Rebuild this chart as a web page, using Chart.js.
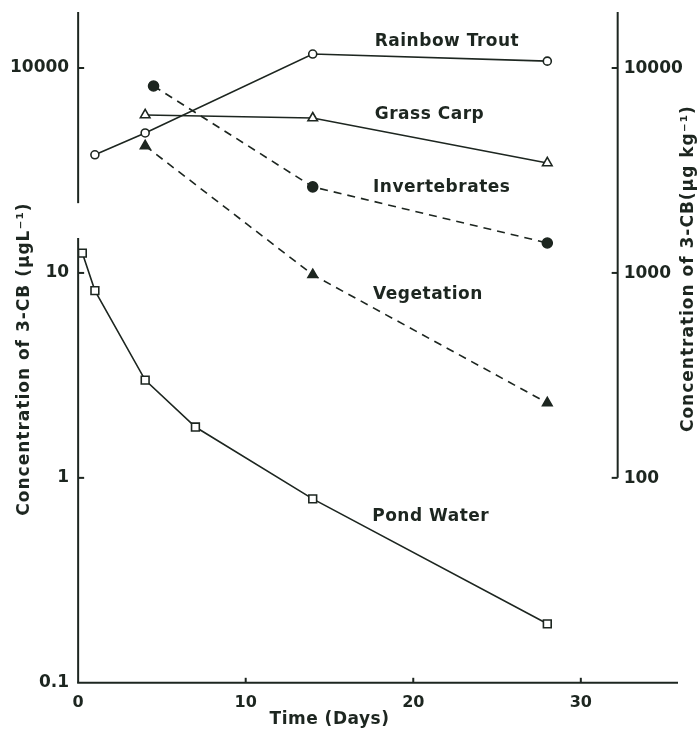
<!DOCTYPE html>
<html>
<head>
<meta charset="utf-8">
<title>3-CB concentration over time</title>
<script src="https://cdn.jsdelivr.net/npm/chart.js@4.4.1/dist/chart.umd.min.js"></script>
<style>
  html, body { margin: 0; padding: 0; background: #fff; }
  #wrap { width: 698px; height: 737px; }
</style>
</head>
<body>
<div id="wrap"><canvas id="chart"></canvas></div>
<script>
// --- DATA ---
const pondDays = [0.25, 1, 4, 7, 14, 28];
const pondWater = [12.5, 8.2, 3.0, 1.77, 0.79, 0.194];      // µg L-1, left axis

const troutDays = [1, 4, 14, 28];
const rainbowTrout = [3770, 4820, 11700, 10800];             // µg kg-1, right axis

const carpDays = [4, 14, 28];
const grassCarp = [5900, 5700, 3440];

const invertDays = [4.5, 14, 28];
const invertebrates = [8170, 2630, 1400];

const vegDays = [4, 14, 28];
const vegetation = [4170, 980, 232];

const xTicks = [0, 10, 20, 30];
const leftTicks = [0.1, 1, 10, 100];
const leftTickLabels = ['0.1', '1', '10', '10000'];   // upper part of the broken left axis is in µg kg-1
const rightTicks = [100, 1000, 10000];

// series names, placed in data units
const seriesLabels = [
    { text: 'Rainbow Trout', day: 17.7, value: 13390, axis: 'yR' },
    { text: 'Grass Carp', day: 17.7, value: 5900, axis: 'yR' },
    { text: 'Invertebrates', day: 17.6, value: 2600, axis: 'yR' },
    { text: 'Vegetation', day: 17.6, value: 783, axis: 'yR' },
    { text: 'Pond Water', day: 17.55, value: 0.645, axis: 'yL' }
];

// --- LOOK ---
const INK = '#1d2620';
const FONT = '"DejaVu Sans", sans-serif';
const rightAxisDay = 32.2;     // the right axis sits inside the plot
const leftBreak = [14.8, 21.9]; // gap in the left axis (µg L-1)

const toPoints = (xs, ys) => xs.map((d, i) => ({ x: d, y: ys[i] }));

function series(label, xs, ys, axis, style, radius, filled, dash) {
    return {
        label: label,
        data: toPoints(xs, ys),
        yAxisID: axis,
        borderColor: INK,
        borderWidth: 1.6,
        borderDash: dash || [],
        pointStyle: style,
        pointRadius: radius,
        pointBorderWidth: 1.6,
        pointBorderColor: INK,
        pointBackgroundColor: filled ? INK : '#fff',
        tension: 0
    };
}

function line(ctx, x1, y1, x2, y2) {
    ctx.beginPath();
    ctx.moveTo(x1, y1);
    ctx.lineTo(x2, y2);
    ctx.stroke();
}

// axes are drawn by hand: broken left axis, inward ticks, right axis inside the plot
const axisDecor = {
    id: 'axisDecor',
    afterDraw(chart) {
        const { ctx, chartArea } = chart;
        const x = chart.scales.x, yL = chart.scales.yL, yR = chart.scales.yR;
        const left = x.getPixelForValue(0);
        ctx.save();
        ctx.strokeStyle = INK;
        ctx.fillStyle = INK;
        ctx.lineWidth = 2;

        // left axis in two pieces
        line(ctx, left, chartArea.top, left, yL.getPixelForValue(leftBreak[1]));
        line(ctx, left, yL.getPixelForValue(leftBreak[0]), left, chartArea.bottom);
        leftTicks.slice(1).forEach(v => {
            const py = yL.getPixelForValue(v);
            line(ctx, left, py, left + 6, py);
        });

        // x axis
        line(ctx, left - 1, chartArea.bottom, chartArea.right, chartArea.bottom);
        xTicks.slice(1).forEach(v => {
            const px = x.getPixelForValue(v);
            line(ctx, px, chartArea.bottom, px, chartArea.bottom - 5);
        });

        // right axis
        const rx = x.getPixelForValue(rightAxisDay);
        line(ctx, rx, chartArea.top, rx, yR.getPixelForValue(rightTicks[0]));
        ctx.font = 'bold 17px ' + FONT;
        ctx.textAlign = 'left';
        ctx.textBaseline = 'middle';
        rightTicks.forEach(v => {
            const py = yR.getPixelForValue(v);
            line(ctx, rx - 6, py, rx, py);
            ctx.fillText(String(v), rx + 6, py + 1);
        });

        // axis titles
        ctx.font = 'bold 17px ' + FONT;
        ctx.textAlign = 'center';
        ctx.letterSpacing = '0.5px';
        ctx.fillText('Time (Days)', x.getPixelForValue(15), 720);

        ctx.letterSpacing = '1px';
        ctx.save();
        ctx.translate(25, yL.getPixelForValue(3.8));
        ctx.rotate(-Math.PI / 2);
        ctx.fillText('Concentration of 3-CB (\u00b5gL\u207b\u00b9)', 0, 0);
        ctx.restore();

        ctx.save();
        ctx.translate(689, yR.getPixelForValue(1050));
        ctx.rotate(-Math.PI / 2);
        ctx.fillText('Concentration of 3-CB(\u00b5g kg\u207b\u00b9)', 0, 0);
        ctx.restore();

        // series names
        ctx.letterSpacing = '0.5px';
        ctx.textAlign = 'left';
        seriesLabels.forEach(l => {
            const sc = chart.scales[l.axis];
            ctx.fillText(l.text, x.getPixelForValue(l.day), sc.getPixelForValue(l.value));
        });
        ctx.restore();
    }
};

new Chart(document.getElementById('chart'), {
    type: 'line',
    data: {
        datasets: [
            series('Pond Water', pondDays, pondWater, 'yL', 'rect', 5.5, false),
            series('Rainbow Trout', troutDays, rainbowTrout, 'yR', 'circle', 4, false),
            series('Grass Carp', carpDays, grassCarp, 'yR', 'triangle', 5.5, false),
            series('Invertebrates', invertDays, invertebrates, 'yR', 'circle', 5, true, [8, 6]),
            series('Vegetation', vegDays, vegetation, 'yR', 'triangle', 5.5, true, [8, 6])
        ]
    },
    options: {
        responsive: true,
        maintainAspectRatio: false,
        animation: false,
        layout: { padding: { left: 1, right: 20, top: 12, bottom: 15 } },
        plugins: {
            legend: { display: false },
            tooltip: { enabled: false }
        },
        scales: {
            x: {
                type: 'linear',
                min: 0,
                max: 35.8,
                grid: { display: false, drawTicks: false },
                border: { display: false },
                afterBuildTicks: s => { s.ticks = xTicks.map(v => ({ value: v })); },
                ticks: { color: INK, padding: 10, font: { family: FONT, size: 16, weight: 'bold' } }
            },
            yL: {
                type: 'logarithmic',
                position: 'left',
                min: 0.1,
                max: 187.6,
                grid: { display: false, drawTicks: false },
                border: { display: false },
                afterBuildTicks: s => { s.ticks = leftTicks.map(v => ({ value: v })); },
                afterFit: s => { s.paddingTop = 0; s.paddingBottom = 0; },
                ticks: {
                    color: INK,
                    padding: 9,
                    font: { family: FONT, size: 17, weight: 'bold' },
                    callback: (v, i) => leftTickLabels[i]
                }
            },
            yR: {
                type: 'logarithmic',
                position: 'right',
                display: false,
                min: 10,
                max: 18760
            }
        }
    },
    plugins: [axisDecor]
});
</script>
</body>
</html>
